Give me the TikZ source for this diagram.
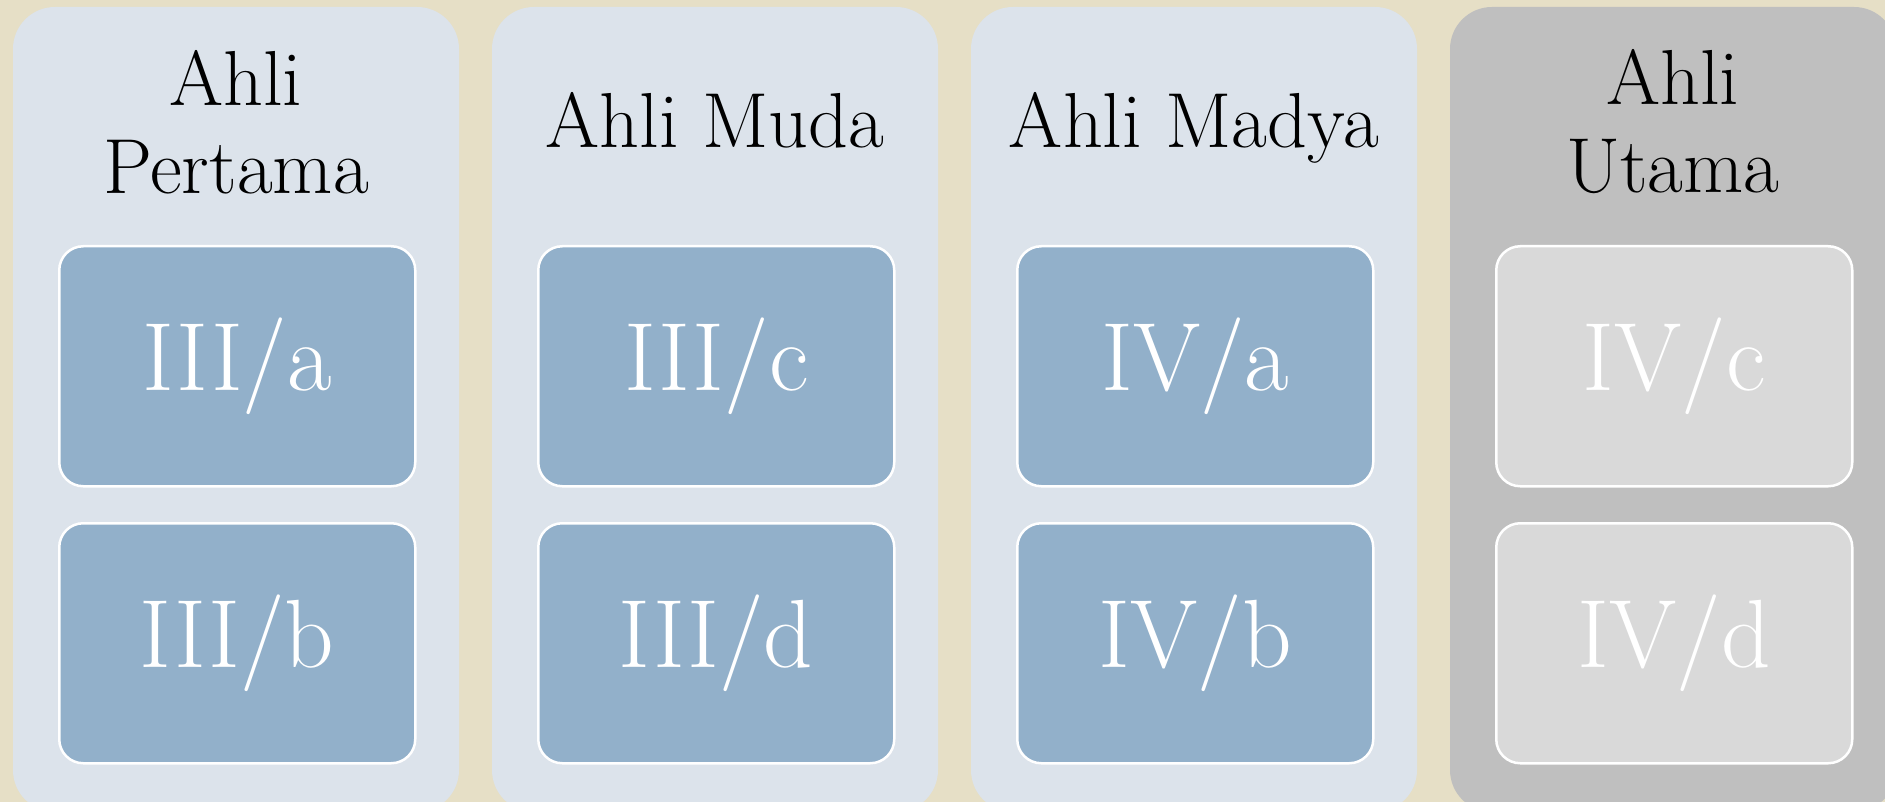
\documentclass[tikz,border=0pt]{standalone}
\definecolor{bgbeige}{HTML}{E6DFC6}
\definecolor{colblue}{HTML}{DCE3EB}
\definecolor{lvlblue}{HTML}{92B0CA}
\definecolor{colgrey}{HTML}{BFBFBF}
\definecolor{lvlgrey}{HTML}{D9D9D9}
\begin{document}
\begin{tikzpicture}[x=1pt,y=-1pt,
  colbox/.style={draw=none, fill=colblue, rounded corners=42pt, minimum width=446pt, minimum height=805pt, anchor=north west, inner sep=0pt, outer sep=0pt},
  titletext/.style={align=center, font=\fontsize{78}{88}\selectfont, text=black, inner sep=0pt},
  lvlbox/.style={draw=white, line width=2.5pt, fill=lvlblue, rounded corners=24pt, minimum width=356pt, minimum height=240pt, anchor=north west, inner sep=0pt, text=white, font=\fontsize{97}{100}\selectfont},
  greycol/.style={fill=colgrey},
  greylvl/.style={fill=lvlgrey}]
\useasboundingbox (0,0) rectangle (1885,802);
\clip (0,0) rectangle (1885,802);
\fill[bgbeige] (0,0) rectangle (1885,802);
% columns
\node[colbox] (col1) at (13,7) {};
\node[colbox] (col2) at (492,7) {};
\node[colbox] (col3) at (971,7) {};
\node[colbox, greycol] (col4) at (1450,7) {};
% titles
\node[titletext] (t1) at (236,122) {Ahli\\Pertama};
\node[titletext, anchor=base] (t2) at (715,148) {Ahli Muda};
\node[titletext, anchor=base] (t3) at (1194,148) {Ahli Madya};
\node[titletext] (t4) at (1673,122) {Ahli\\Utama};
% level boxes
\node[lvlbox] (l1a) at (58,245) {III/a};
\node[lvlbox] (l1b) at (58,522) {III/b};
\node[lvlbox] (l2a) at (537,245) {III/c};
\node[lvlbox] (l2b) at (537,522) {III/d};
\node[lvlbox] (l3a) at (1016,245) {IV/a};
\node[lvlbox] (l3b) at (1016,522) {IV/b};
\node[lvlbox, greylvl] (l4a) at (1495,245) {IV/c};
\node[lvlbox, greylvl] (l4b) at (1495,522) {IV/d};
\end{tikzpicture}
\end{document}
